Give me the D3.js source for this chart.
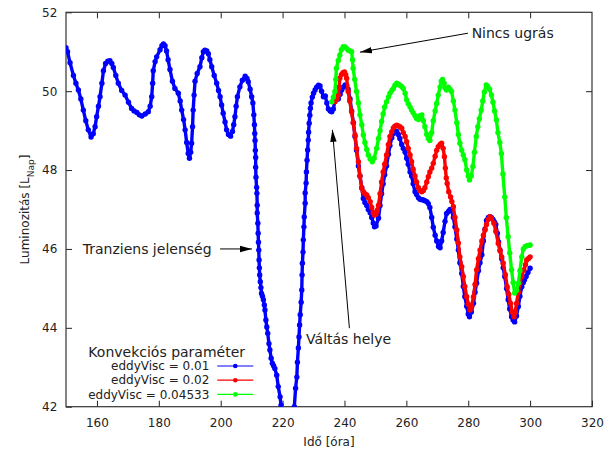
<!DOCTYPE html>
<html>
<head>
<meta charset="utf-8">
<script src="https://cdn.jsdelivr.net/npm/d3@7"></script>
<style>
  body { margin: 0; background: #fff; }
  svg { font-family: "DejaVu Sans", sans-serif; }
</style>
</head>
<body>
<svg id="chart" width="611" height="449"></svg>
<script>
// values: [hour, luminosity]
const visc001 = [
  [150.0, 51.10], [150.5, 51.00], [151.3, 50.72], [152.4, 50.40], [153.2, 50.20], [154.0, 50.03],
  [154.8, 49.80], [155.6, 49.52], [156.4, 49.25], [157.2, 49.02], [158.1, 48.84], [158.8, 48.92],
  [159.4, 49.10], [159.9, 49.35], [160.5, 49.62], [161.0, 49.86], [161.6, 50.20], [162.1, 50.52],
  [162.8, 50.70], [163.5, 50.76], [164.2, 50.77], [164.8, 50.70], [165.3, 50.60], [166.1, 50.40],
  [166.9, 50.20], [168.0, 50.02], [169.1, 49.90], [170.2, 49.72], [171.2, 49.56], [172.0, 49.50],
  [172.9, 49.46], [173.7, 49.40], [174.5, 49.37], [175.6, 49.42], [176.6, 49.48], [177.2, 49.62],
  [177.7, 49.86], [178.0, 50.20], [178.2, 50.52], [178.8, 50.75], [179.3, 50.87], [180.4, 51.05],
  [181.0, 51.15], [181.5, 51.20], [182.0, 51.15], [182.5, 51.02], [183.0, 50.80], [183.6, 50.55],
  [184.4, 50.25], [185.2, 50.07], [186.3, 49.95], [186.9, 49.75], [187.4, 49.52], [188.0, 49.28],
  [188.5, 49.02], [189.0, 48.70], [189.5, 48.42], [189.9, 48.30], [190.3, 48.45], [190.6, 48.68],
  [190.9, 49.10], [191.1, 49.52], [191.4, 49.90], [191.7, 50.25], [192.4, 50.45], [193.3, 50.62],
  [193.9, 50.85], [194.4, 51.00], [194.9, 51.04], [195.5, 51.02], [196.0, 50.95], [196.5, 50.80],
  [197.1, 50.62], [197.9, 50.40], [198.7, 50.20], [199.3, 50.02], [199.8, 49.86], [200.3, 49.65],
  [200.8, 49.44], [201.4, 49.22], [201.9, 49.02], [202.5, 48.90], [203.2, 48.86], [203.8, 48.98],
  [204.2, 49.15], [204.6, 49.35], [205.0, 49.62], [205.4, 49.86], [206.2, 50.11], [207.0, 50.28],
  [207.9, 50.38], [208.5, 50.32], [208.9, 50.24], [209.5, 50.05], [210.0, 49.86], [210.4, 49.70],
  [210.7, 49.40], [210.9, 49.15], [211.0, 48.93], [211.1, 48.75], [211.2, 48.50], [211.3, 48.32],
  [211.3, 48.07], [211.4, 47.82], [211.6, 47.56], [211.7, 47.41], [211.8, 47.11], [211.8, 46.91],
  [212.0, 46.65], [212.1, 46.40], [212.2, 46.17], [212.3, 45.97], [212.4, 45.72], [212.5, 45.52],
  [212.6, 45.34], [212.8, 45.17], [213.0, 45.02], [213.2, 44.87], [213.5, 44.80], [213.8, 44.71],
  [214.1, 44.58], [214.3, 44.45], [214.6, 44.20], [214.9, 44.02], [215.2, 43.86], [215.6, 43.60],
  [215.9, 43.44], [216.3, 43.23], [216.7, 43.10], [217.1, 43.04], [217.5, 42.97], [218.1, 42.80],
  [218.6, 42.51], [219.2, 42.25], [219.5, 42.04], [220.3, 41.60], [221.5, 41.30], [222.7, 41.50],
  [223.8, 42.00], [224.2, 42.47], [224.6, 42.75], [224.8, 43.13], [225.1, 43.49], [225.3, 43.77],
  [225.5, 44.07], [225.7, 44.33], [226.0, 44.65], [226.2, 44.96], [226.3, 45.34], [226.4, 45.64],
  [226.6, 45.92], [226.7, 46.23], [226.9, 46.56], [227.0, 46.81], [227.3, 47.16], [227.3, 47.42],
  [227.6, 47.67], [227.7, 47.95], [227.9, 48.25], [228.1, 48.51], [228.3, 48.76], [228.4, 48.96],
  [228.6, 49.19], [228.8, 49.39], [229.0, 49.57], [229.2, 49.70], [229.6, 49.85], [230.0, 49.95],
  [230.5, 50.03], [231.0, 50.10], [231.6, 50.15], [232.1, 50.13], [232.6, 50.00], [233.2, 49.86],
  [233.8, 49.88], [234.3, 49.70], [234.8, 49.55], [235.4, 49.50], [235.9, 49.48], [236.4, 49.55],
  [236.9, 49.75], [237.5, 49.80], [238.0, 49.80], [238.6, 49.92], [239.1, 50.03], [239.6, 50.10],
  [240.2, 50.16], [240.7, 50.15], [241.2, 50.05], [241.8, 49.80], [242.3, 49.50], [242.9, 49.20],
  [243.4, 48.85], [243.9, 48.50], [244.5, 48.10], [245.0, 47.85], [245.6, 47.55], [246.1, 47.28],
  [246.6, 47.18], [247.2, 47.10], [247.7, 47.00], [248.3, 46.92], [248.8, 46.80], [249.3, 46.66],
  [249.7, 46.56], [250.2, 46.58], [251.0, 46.78], [251.5, 47.10], [252.0, 47.40], [252.5, 47.65],
  [253.0, 47.88], [253.6, 48.10], [254.2, 48.40], [254.7, 48.62], [255.3, 48.82], [255.8, 48.93],
  [256.3, 48.98], [256.9, 48.98], [257.4, 48.90], [257.9, 48.80], [258.5, 48.65], [259.0, 48.55],
  [259.6, 48.45], [260.1, 48.30], [260.6, 48.15], [261.2, 47.95], [261.7, 47.85], [262.2, 47.65],
  [262.8, 47.45], [263.3, 47.38], [263.9, 47.30], [264.4, 47.26], [265.0, 47.25], [265.5, 47.24],
  [266.0, 47.22], [266.6, 47.20], [267.1, 47.15], [267.6, 47.05], [268.2, 46.80], [268.7, 46.55],
  [269.3, 46.35], [269.8, 46.20], [270.4, 46.06], [270.9, 46.03], [271.4, 46.20], [271.9, 46.42],
  [272.5, 46.70], [273.0, 46.90], [273.6, 46.95], [274.1, 47.00], [274.6, 46.98], [275.2, 46.80],
  [275.7, 46.56], [276.3, 46.25], [276.8, 45.97], [277.3, 45.65], [277.9, 45.38], [278.4, 45.05],
  [278.9, 44.79], [279.5, 44.55], [280.0, 44.35], [280.4, 44.28], [281.0, 44.40], [281.7, 44.62],
  [282.2, 44.90], [282.7, 45.13], [283.3, 45.45], [283.8, 45.65], [284.4, 45.85], [284.9, 46.20],
  [285.4, 46.50], [285.9, 46.72], [286.5, 46.80], [287.0, 46.82], [287.5, 46.80], [288.0, 46.75],
  [288.5, 46.68], [288.9, 46.62], [289.4, 46.40], [289.8, 46.18], [290.3, 45.97], [290.8, 45.75],
  [291.3, 45.52], [291.8, 45.30], [292.4, 45.00], [292.9, 44.71], [293.4, 44.48], [294.0, 44.28],
  [294.5, 44.20], [295.0, 44.15], [295.6, 44.30], [296.2, 44.54], [296.7, 44.80], [297.3, 45.04],
  [297.8, 45.15], [298.2, 45.22], [298.7, 45.30], [299.3, 45.40], [300.0, 45.51]
]

const visc002 = [
  [236.9, 49.73], [237.5, 49.80], [238.0, 49.90], [238.3, 50.10], [238.5, 50.33], [239.0, 50.42],
  [239.5, 50.47], [240.0, 50.49], [240.4, 50.42], [240.7, 50.33], [241.2, 49.99], [241.7, 49.75],
  [242.3, 49.48], [242.8, 49.20], [243.4, 48.89], [243.9, 48.55], [244.5, 48.21], [245.0, 47.85],
  [245.6, 47.54], [246.1, 47.45], [246.6, 47.40], [247.2, 47.37], [247.7, 47.30], [248.3, 47.20],
  [248.8, 47.05], [249.3, 46.92], [249.7, 46.86], [250.2, 46.88], [250.6, 46.98], [251.0, 47.11],
  [251.5, 47.40], [252.0, 47.70], [252.5, 47.95], [253.0, 48.15], [253.6, 48.38], [254.2, 48.65],
  [254.7, 48.85], [255.3, 48.97], [255.8, 49.07], [256.3, 49.11], [256.9, 49.14], [257.4, 49.12],
  [257.9, 49.10], [258.5, 49.06], [259.0, 48.95], [259.6, 48.85], [260.1, 48.72], [260.6, 48.55],
  [261.2, 48.38], [261.7, 48.21], [262.2, 48.02], [262.8, 47.85], [263.3, 47.70], [263.9, 47.55],
  [264.4, 47.48], [265.0, 47.45], [265.5, 47.48], [266.0, 47.55], [266.6, 47.70], [267.1, 47.83],
  [267.6, 47.95], [268.2, 48.05], [268.7, 48.17], [269.3, 48.35], [269.8, 48.50], [270.3, 48.59],
  [270.9, 48.65], [271.4, 48.68], [271.9, 48.55], [272.3, 48.34], [272.6, 48.05], [272.9, 47.80],
  [273.2, 47.66], [273.7, 47.45],
  [274.3, 47.32], [274.7, 47.20], [275.2, 47.07], [275.7, 46.80], [276.3, 46.48], [276.8, 46.15],
  [277.3, 45.80], [277.9, 45.55], [278.4, 45.30], [278.9, 45.05], [279.5, 44.79], [280.0, 44.60],
  [280.6, 44.45], [281.1, 44.55], [281.7, 44.79], [282.2, 45.10], [282.7, 45.47], [283.3, 45.75],
  [283.8, 45.97], [284.4, 46.20], [284.9, 46.35], [285.4, 46.48], [285.9, 46.62], [286.5, 46.75],
  [287.0, 46.82], [287.5, 46.78], [288.3, 46.65], [288.9, 46.45], [289.7, 46.14], [290.3, 45.95],
  [290.8, 45.80], [291.3, 45.64], [292.0, 45.35], [292.6, 45.04], [293.1, 44.85], [293.7, 44.62],
  [294.2, 44.40], [294.8, 44.28], [295.2, 44.40], [295.6, 44.62], [296.2, 44.90], [296.7, 45.13],
  [297.3, 45.30], [298.0, 45.47], [298.5, 45.60], [298.9, 45.72], [299.5, 45.76], [300.0, 45.80]
]

const visc04533 = [
  [235.9, 49.73], [236.4, 49.85], [236.9, 49.99], [237.2, 50.30], [237.4, 50.58], [238.0, 50.78],
  [238.5, 50.92], [239.0, 51.05], [239.6, 51.13], [240.2, 51.12], [240.7, 51.08], [241.2, 51.04],
  [241.8, 51.02], [242.3, 51.00], [242.6, 50.80], [242.8, 50.58], [243.3, 50.30], [243.9, 49.99],
  [244.5, 49.70], [245.0, 49.40], [245.6, 49.15], [246.1, 48.89], [246.6, 48.70], [247.2, 48.52],
  [247.7, 48.38], [248.3, 48.28], [249.0, 48.21], [249.6, 48.30], [250.4, 48.55], [251.0, 48.80],
  [251.5, 49.00], [252.0, 49.23], [252.5, 49.42], [253.0, 49.60], [253.6, 49.73], [254.2, 49.85],
  [254.7, 49.95], [255.3, 50.02], [255.8, 50.07], [256.3, 50.15], [256.9, 50.20], [257.4, 50.18],
  [257.9, 50.15], [258.5, 50.12], [259.0, 50.07], [259.6, 49.95], [260.1, 49.78], [260.6, 49.68],
  [261.2, 49.60], [261.7, 49.52], [262.2, 49.45], [262.8, 49.38], [263.3, 49.31], [263.9, 49.28],
  [264.4, 49.38], [265.0, 49.40], [265.5, 49.25], [266.0, 49.10], [266.6, 48.90], [267.1, 48.80],
  [267.6, 48.75], [268.2, 48.95], [268.7, 49.25], [269.3, 49.50], [269.8, 49.69], [270.3, 49.90],
  [270.9, 50.11], [271.3, 50.25], [271.7, 50.30], [272.2, 50.20], [272.5, 50.08], [273.0, 50.03],
  [273.6, 50.10], [274.1, 50.05], [274.6, 49.99], [275.2, 49.75], [275.7, 49.52], [276.3, 49.20],
  [276.8, 48.90], [277.3, 48.68], [277.9, 48.50], [278.4, 48.38], [278.9, 48.26], [279.5, 48.00],
  [280.0, 47.85], [280.4, 47.75], [281.0, 47.85], [281.5, 48.09], [282.0, 48.45], [282.6, 48.85],
  [283.1, 49.10], [283.6, 49.30], [284.2, 49.52], [284.7, 49.75], [285.2, 49.98], [285.8, 50.16],
  [286.3, 50.12], [286.9, 50.05], [287.5, 49.90], [288.0, 49.72], [288.5, 49.50], [289.1, 49.27],
  [289.6, 48.95], [290.2, 48.70], [290.7, 48.42], [291.2, 47.90], [291.8, 47.32], [292.3, 46.80],
  [292.9, 46.31], [293.4, 45.90], [294.0, 45.47], [294.5, 45.15], [295.0, 44.88], [295.6, 44.95],
  [296.2, 45.13], [296.7, 45.45], [297.3, 45.80], [297.8, 46.00], [298.4, 46.06], [299.0, 46.08],
  [299.5, 46.09], [300.0, 46.10]
]

const seriesNames = ["eddyVisc = 0.01", "eddyVisc = 0.02", "eddyVisc = 0.04533"]
const seriesColors = ["#0000ff", "#ff0000", "#00ff00"]
const xTicks = [160, 180, 200, 220, 240, 260, 280, 300, 320]
const yTicks = [42, 44, 46, 48, 50, 52]

const width = 611
const height = 449
const plot = { left: 66, right: 592, top: 12.3, bottom: 406.7 }
const ink = "#222"

const x = d3.scaleLinear().domain([150, 320]).range([plot.left, plot.right])
const y = d3.scaleLinear().domain([42, 52]).range([plot.bottom, plot.top])

const svg = d3.select("#chart")
  .attr("viewBox", [0, 0, width, height])

const defs = svg.append("defs")
defs.append("clipPath")
  .attr("id", "plotClip")
  .append("rect")
  .attr("x", plot.left)
  .attr("y", plot.top)
  .attr("width", plot.right - plot.left)
  .attr("height", plot.bottom - plot.top)

defs.append("marker")
  .attr("id", "head")
  .attr("markerUnits", "userSpaceOnUse")
  .attr("viewBox", "0 0 12 8")
  .attr("refX", 12)
  .attr("refY", 4)
  .attr("markerWidth", 12)
  .attr("markerHeight", 8)
  .attr("orient", "auto")
  .append("path")
  .attr("d", "M 0 0.8 L 12 4 L 0 7.2 Z")
  .attr("fill", "#000")

// axes: ticks point inward on all four sides
function styleAxis(g) {
  g.select(".domain").remove()
  g.selectAll("line").attr("stroke", ink)
  g.selectAll("text")
    .attr("fill", ink)
    .style("font-size", "12px")
    .style("font-family", "DejaVu Sans, sans-serif")
}

svg.append("g")
  .attr("transform", `translate(0,${plot.bottom})`)
  .call(d3.axisBottom(x).tickValues(xTicks).tickSizeInner(-6).tickSizeOuter(0).tickPadding(11.5))
  .call(styleAxis)

svg.append("g")
  .attr("transform", `translate(0,${plot.top})`)
  .call(d3.axisTop(x).tickValues(xTicks.slice(0, -1)).tickSizeInner(-6).tickSizeOuter(0).tickFormat(""))
  .call(styleAxis)

svg.append("g")
  .attr("transform", `translate(${plot.left},0)`)
  .call(d3.axisLeft(y).tickValues(yTicks).tickSizeInner(-6).tickSizeOuter(0).tickPadding(8.7))
  .call(styleAxis)

svg.append("g")
  .attr("transform", `translate(${plot.right},0)`)
  .call(d3.axisRight(y).tickValues(yTicks.slice(1, -1)).tickSizeInner(-6).tickSizeOuter(0).tickFormat(""))
  .call(styleAxis)

svg.append("rect")
  .attr("x", plot.left)
  .attr("y", plot.top)
  .attr("width", plot.right - plot.left)
  .attr("height", plot.bottom - plot.top)
  .attr("fill", "none")
  .attr("stroke", "#333")
  .attr("stroke-width", 1.2)

// series: a heavy line under dense dots gives the packed-marker look
const line = d3.line().x(d => x(d[0])).y(d => y(d[1]))
const marks = svg.append("g").attr("clip-path", "url(#plotClip)")

const allSeries = [visc001, visc002, visc04533]
allSeries.forEach((data, i) => {
  marks.append("path")
    .datum(data)
    .attr("d", line)
    .attr("fill", "none")
    .attr("stroke", seriesColors[i])
    .attr("stroke-width", 3.4)
    .attr("stroke-linejoin", "round")
    .attr("stroke-linecap", "round")
  marks.append("g")
    .selectAll("circle")
    .data(data)
    .join("circle")
    .attr("cx", d => x(d[0]))
    .attr("cy", d => y(d[1]))
    .attr("r", 2.7)
    .attr("fill", seriesColors[i])
})

// axis titles
svg.append("text")
  .attr("x", (plot.left + plot.right) / 2)
  .attr("y", 441.7)
  .attr("dy", "0.35em")
  .attr("text-anchor", "middle")
  .attr("fill", ink)
  .style("font-size", "12px")
  .text("Idő [óra]")

const yLabel = svg.append("text")
  .attr("transform", `translate(25,${(plot.top + plot.bottom) / 2}) rotate(-90)`)
  .attr("dy", "0.35em")
  .attr("text-anchor", "middle")
  .attr("fill", ink)
  .style("font-size", "12px")
yLabel.append("tspan").text("Luminozitás [L")
yLabel.append("tspan").attr("baseline-shift", "sub").style("font-size", "9px").text("Nap")
yLabel.append("tspan").text("]")

// annotations
const notes = [
  { text: "Nincs ugrás", at: [281.1, 51.48], from: [279.9, 51.47], to: [245.0, 50.99] },
  { text: "Tranziens jelenség", at: [155.4, 46.0], from: [199.8, 46.0], to: [210.1, 46.0] },
  { text: "Váltás helye", at: [227.6, 43.71], from: [241.6, 43.99], to: [236.1, 49.02] }
]
notes.forEach(n => {
  svg.append("line")
    .attr("x1", x(n.from[0])).attr("y1", y(n.from[1]))
    .attr("x2", x(n.to[0])).attr("y2", y(n.to[1]))
    .attr("stroke", "#000")
    .attr("stroke-width", 1)
    .attr("marker-end", "url(#head)")
  svg.append("text")
    .attr("x", x(n.at[0]))
    .attr("y", y(n.at[1]))
    .attr("dy", "0.35em")
    .attr("fill", ink)
    .style("font-size", "14px")
    .text(n.text)
})

// legend
const legend = svg.append("g")
legend.append("text")
  .attr("x", 166.7)
  .attr("y", 356.7)
  .attr("text-anchor", "middle")
  .attr("fill", ink)
  .style("font-size", "14px")
  .text("Konvekciós paraméter")

seriesNames.forEach((name, i) => {
  const rowY = 366 + i * 14.2
  legend.append("text")
    .attr("x", 209.3)
    .attr("y", rowY)
    .attr("dy", "0.35em")
    .attr("text-anchor", "end")
    .attr("fill", ink)
    .style("font-size", "12px")
    .text(name)
  legend.append("line")
    .attr("x1", 217.3).attr("x2", 253.3)
    .attr("y1", rowY).attr("y2", rowY)
    .attr("stroke", seriesColors[i])
    .attr("stroke-width", 1.2)
  legend.append("circle")
    .attr("cx", 235.3)
    .attr("cy", rowY)
    .attr("r", 2.3)
    .attr("fill", seriesColors[i])
})
</script>
</body>
</html>
